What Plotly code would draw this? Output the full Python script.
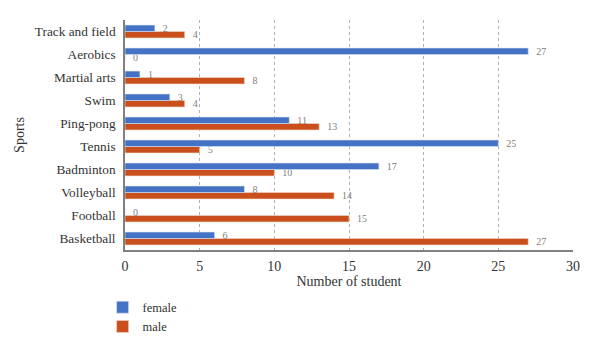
import plotly.graph_objects as go

sports = ["Track and field", "Aerobics", "Martial arts", "Swim", "Ping-pong",
          "Tennis", "Badminton", "Volleyball", "Football", "Basketball"]
female = [2, 27, 1, 3, 11, 25, 17, 8, 0, 6]
male = [4, 0, 8, 4, 13, 5, 10, 14, 15, 27]
x_ticks = [0, 5, 10, 15, 20, 25, 30]

FONT = "Liberation Serif"
lbl = dict(family=FONT, size=10, color="#808080")

fig = go.Figure()
fig.add_trace(go.Bar(
    y=sports, x=male, name="male", orientation="h",
    marker=dict(color="#C9501C", line=dict(color="#F0D6C8", width=0.6)),
    text=male, texttemplate="  %{text}", textposition="outside", textfont=lbl,
    cliponaxis=False, constraintext="none", legendrank=2,
))
fig.add_trace(go.Bar(
    y=sports, x=female, name="female", orientation="h",
    marker=dict(color="#4472C4", line=dict(color="#D6E0F2", width=0.6)),
    text=female, texttemplate="  %{text}", textposition="outside", textfont=lbl,
    cliponaxis=False, constraintext="none", legendrank=1,
))

fig.update_layout(
    width=600, height=353,
    margin=dict(l=125, r=27, t=20, b=100),
    paper_bgcolor="white", plot_bgcolor="white",
    barmode="group", bargap=0.44, bargroupgap=0.0,
    font=dict(family=FONT, size=13, color="#333333"),
    xaxis=dict(
        range=[0, 30], tickvals=x_ticks, ticktext=[str(v) for v in x_ticks],
        showgrid=True, gridcolor="#B0B0B0", griddash="dot", gridwidth=1,
        showline=True, linecolor="#808080", linewidth=1.5,
        ticks="", zeroline=False, ticklabelstandoff=2,
        title=dict(text="Number of student", font=dict(family=FONT, size=14), standoff=3),
        tickfont=dict(family=FONT, size=14),
    ),
    yaxis=dict(
        categoryorder="array", categoryarray=list(reversed(sports)),
        showline=True, linecolor="#808080", linewidth=1.5,
        showgrid=False, ticks="", ticklabelstandoff=5,
        title=dict(text="Sports", font=dict(family=FONT, size=14), standoff=7),
        tickfont=dict(family=FONT, size=13.3),
    ),
    legend=dict(
        orientation="v", x=-0.05, xanchor="left",
        y=-0.185, yanchor="top",
        font=dict(family=FONT, size=12.5), itemwidth=30, tracegroupgap=0,
    ),
)

fig.write_html("out.html")
